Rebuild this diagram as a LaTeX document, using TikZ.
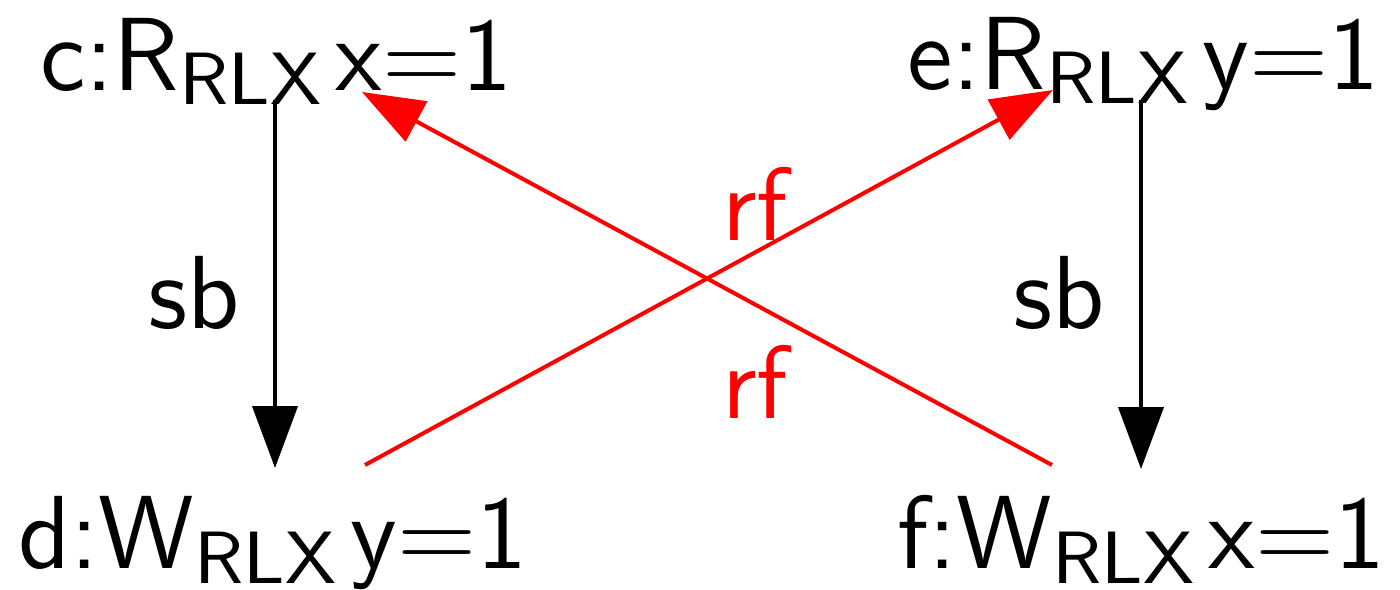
\documentclass[tikz,border=0pt]{standalone}
\usetikzlibrary{arrows.meta}
\newcommand{\evtext}[2]{\scalebox{8.667}{\sffamily\fontsize{12}{14}\selectfont #1\raisebox{-1.73pt}{\fontsize{8.55}{10}\selectfont RLX}\hspace{1.7pt}#2}}
\newcommand{\lbltext}[1]{\scalebox{8.667}{\sffamily\fontsize{12}{14}\selectfont #1}}
\begin{document}
\begin{tikzpicture}[x=1pt,y=-1pt,
  ev/.style={anchor=base west,inner sep=0pt},
  lbl/.style={anchor=base west,inner sep=0pt},
  sbedge/.style={draw=black,line width=4pt,-{Triangle[length=62pt,width=45pt]}},
  rfedge/.style={draw=red,line width=4pt,-{Triangle[length=62pt,width=45pt]}}]
\useasboundingbox (0,0) rectangle (1400,589);
\node[ev] (c) at (40,90) {\evtext{c:R}{x=1}};
\node[ev] (e) at (907,89) {\evtext{e:R}{y=1}};
\node[ev] (d) at (18,568) {\evtext{d:W}{y=1}};
\node[ev] (f) at (897,568) {\evtext{f:W}{x=1}};
\coordinate (c-out) at (275,100);
\coordinate (d-in) at (275,468);
\coordinate (e-out) at (1141,100);
\coordinate (f-in) at (1141,469);
\coordinate (d-out) at (365,465);
\coordinate (e-in) at (1053,90);
\coordinate (f-out) at (1052,465);
\coordinate (c-in) at (362,92);
\draw[sbedge] (c-out) -- (d-in);
\draw[sbedge] (e-out) -- (f-in);
\draw[rfedge] (d-out) -- (e-in);
\draw[rfedge] (f-out) -- (c-in);
\node[lbl] (sb1) at (148,328) {\lbltext{sb}};
\node[lbl] (sb2) at (1013,328) {\lbltext{sb}};
\node[lbl,text=red] (rf1) at (722,240) {\lbltext{rf}};
\node[lbl,text=red] (rf2) at (722,418) {\lbltext{rf}};
\end{tikzpicture}
\end{document}
